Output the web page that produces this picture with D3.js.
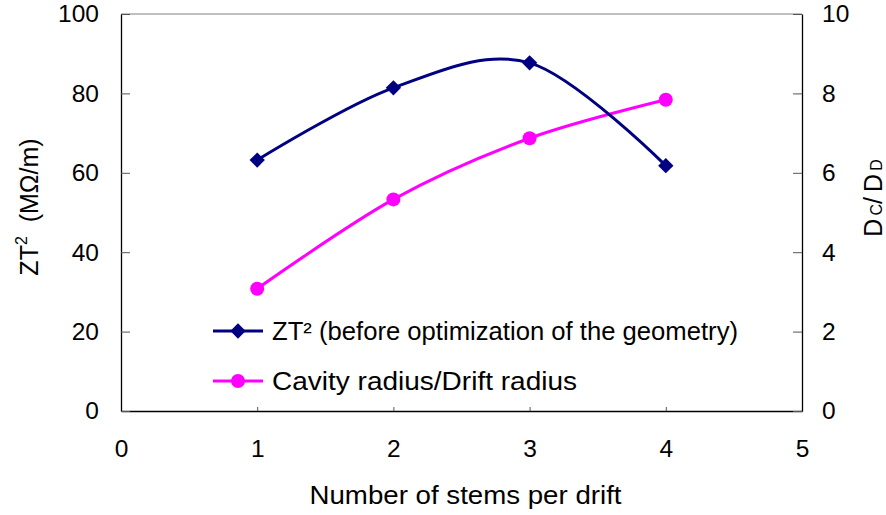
<!DOCTYPE html>
<html>
<head>
<meta charset="utf-8">
<script src="https://cdn.jsdelivr.net/npm/d3@7"></script>
<style>
  html, body { margin: 0; padding: 0; background: #fff; }
  svg { display: block; font-family: "Liberation Sans", Arial, sans-serif; }
</style>
</head>
<body>
<svg id="chart" width="886" height="515"></svg>
<script>
// Number of stems per drift
const stems = [1, 2, 3, 4];
// ZT² (MΩ/m), before optimization of the geometry
const zt2 = [63.2, 81.4, 87.7, 61.8];
// Cavity radius / drift radius (Dc/DD)
const radiusRatio = [3.08, 5.33, 6.87, 7.84];

const xTicks = [0, 1, 2, 3, 4, 5];
const leftTicks = [0, 20, 40, 60, 80, 100];
const rightTicks = [0, 2, 4, 6, 8, 10];

const seriesNames = ["ZT\u00B2 (before optimization of the geometry)", "Cavity radius/Drift radius"];
const seriesColors = ["#000080", "#FF00FF"];

const svg = d3.select("#chart");
const m = { left: 121, right: 802, top: 14, bottom: 411 };

const x = d3.scaleLinear().domain([0, 5]).range([m.left, m.right]);
const yL = d3.scaleLinear().domain([0, 100]).range([m.bottom, m.top]);
const yR = d3.scaleLinear().domain([0, 10]).range([m.bottom, m.top]);

const tickFont = 24.5;
const legendFont = 25.5;
const titleFont = 26;

// plot frame top edge
svg.append("line")
  .attr("x1", m.left).attr("x2", m.right)
  .attr("y1", m.top).attr("y2", m.top)
  .attr("stroke", "#808080").attr("stroke-width", 1);

// axes
function styleAxis(g) {
  g.select(".domain").attr("stroke", "#000").attr("stroke-width", 1.3);
  g.selectAll(".tick line").attr("stroke", "#555").attr("stroke-width", 1);
  g.selectAll(".tick text").attr("font-size", tickFont).attr("fill", "#000")
    .attr("font-family", "Liberation Sans, Arial, sans-serif");
}

svg.append("g")
  .attr("transform", `translate(0,${m.bottom})`)
  .call(d3.axisBottom(x).tickValues(xTicks).tickSize(-4).tickSizeOuter(0).tickPadding(29).tickFormat(d3.format("d")))
  .call(styleAxis);

svg.append("g")
  .attr("transform", `translate(${m.left},0)`)
  .call(d3.axisLeft(yL).tickValues(leftTicks).tickSize(-9).tickSizeOuter(0).tickPadding(22).tickFormat(d3.format("d")))
  .call(styleAxis);

svg.append("g")
  .attr("transform", `translate(${m.right},0)`)
  .call(d3.axisRight(yR).tickValues(rightTicks).tickSize(-9).tickSizeOuter(0).tickPadding(20).tickFormat(d3.format("d")))
  .call(styleAxis);

// axis titles
svg.append("text")
  .attr("x", (m.left + m.right) / 2 + 4).attr("y", 504)
  .attr("text-anchor", "middle").attr("font-size", titleFont)
  .attr("textLength", 312).attr("lengthAdjust", "spacingAndGlyphs")
  .text("Number of stems per drift");

const lt = svg.append("text")
  .attr("transform", "translate(38,207) rotate(-90)")
  .attr("text-anchor", "middle").attr("font-size", 25);
lt.append("tspan").text("ZT");
lt.append("tspan").attr("dy", -11).attr("font-size", 16).text("2");
lt.append("tspan").attr("dy", 11).text("\u00A0 (M\u03A9/m)");

const rt = svg.append("text")
  .attr("transform", "translate(882,198) rotate(-90)")
  .attr("text-anchor", "middle").attr("font-size", 25);
rt.append("tspan").text("D");
rt.append("tspan").attr("font-size", 16).text("\u2009C");
rt.append("tspan").text("/\u2009D");
rt.append("tspan").attr("font-size", 16).text("\u2009D");

// smoothed series lines
const curve = d3.curveCardinal.tension(0);

const lineL = d3.line().x((d, i) => x(stems[i])).y(d => yL(d)).curve(curve);
const lineR = d3.line().x((d, i) => x(stems[i])).y(d => yR(d)).curve(curve);

svg.append("path").datum(radiusRatio)
  .attr("d", lineR).attr("fill", "none")
  .attr("stroke", seriesColors[1]).attr("stroke-width", 3);

svg.append("path").datum(zt2)
  .attr("d", lineL).attr("fill", "none")
  .attr("stroke", seriesColors[0]).attr("stroke-width", 3);

const diamond = d3.symbol().type(d3.symbolDiamond2).size(150);

svg.append("g").selectAll("circle").data(radiusRatio).join("circle")
  .attr("cx", (d, i) => x(stems[i])).attr("cy", d => yR(d))
  .attr("r", 7).attr("fill", seriesColors[1]);

svg.append("g").selectAll("path").data(zt2).join("path")
  .attr("d", diamond)
  .attr("transform", (d, i) => `translate(${x(stems[i])},${yL(d)})`)
  .attr("fill", seriesColors[0]);

// legend
const legend = svg.append("g");
const legendY = [331, 381];
const legendWidths = [466, 305];
seriesNames.forEach((name, i) => {
  const g = legend.append("g").attr("transform", `translate(213,${legendY[i]})`);
  g.append("line").attr("x1", 0).attr("x2", 50).attr("y1", 0).attr("y2", 0)
    .attr("stroke", seriesColors[i]).attr("stroke-width", 3);
  if (i === 0) {
    g.append("path").attr("d", diamond).attr("transform", "translate(25,0)").attr("fill", seriesColors[i]);
  } else {
    g.append("circle").attr("cx", 25).attr("cy", 0).attr("r", 7).attr("fill", seriesColors[i]);
  }
  g.append("text").attr("x", 59).attr("y", 9).attr("font-size", legendFont)
    .attr("textLength", legendWidths[i]).attr("lengthAdjust", "spacingAndGlyphs")
    .text(name);
});
</script>
</body>
</html>
